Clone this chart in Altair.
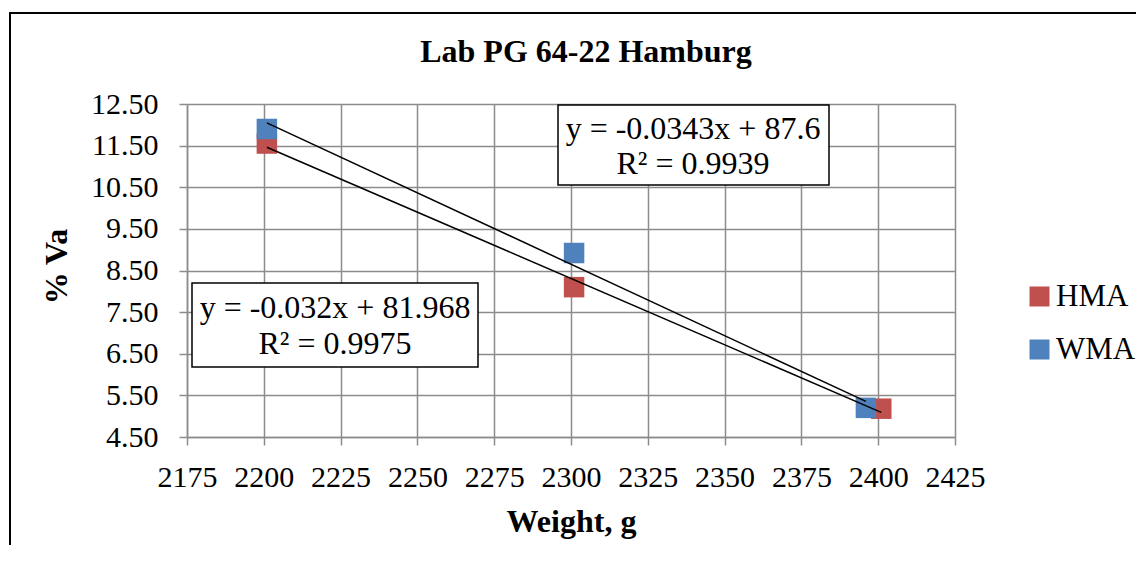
import altair as alt
import pandas as pd

series_names = ["HMA", "WMA"]
series_colors = ["#C0504D", "#4F81BD"]
hma_weight = [2201, 2301, 2401]
hma_va = [11.55, 8.10, 5.18]
wma_weight = [2201, 2301, 2396]
wma_va = [11.90, 8.92, 5.20]
x_ticks = [2175, 2200, 2225, 2250, 2275, 2300, 2325, 2350, 2375, 2400, 2425]
y_ticks = [4.5, 5.5, 6.5, 7.5, 8.5, 9.5, 10.5, 11.5, 12.5]
chart_title = "Lab PG 64-22 Hamburg"
x_title = "Weight, g"
y_title = "% Va"
eq_wma = ["y = -0.0343x + 87.6", "R² = 0.9939"]
eq_hma = ["y = -0.032x + 81.968", "R² = 0.9975"]

FONT = "Liberation Serif"

df = pd.DataFrame({
    "series": ["HMA"] * len(hma_weight) + ["WMA"] * len(wma_weight),
    "weight": hma_weight + wma_weight,
    "va": hma_va + wma_va,
})

xenc = alt.X("weight:Q",
             scale=alt.Scale(domain=[x_ticks[0], x_ticks[-1]], nice=False, zero=False),
             axis=alt.Axis(values=x_ticks, title=x_title, format="d",
                           labelFontSize=30, labelPadding=17, tickSize=8,
                           labelOverlap=False, labelFlush=False,
                           titleFontSize=32, titleFontWeight="bold",
                           titleX=384, titleY=94, titleAlign="center",
                           titleBaseline="alphabetic"))
yenc = alt.Y("va:Q",
             scale=alt.Scale(domain=[y_ticks[0], y_ticks[-1]], nice=False, zero=False),
             axis=alt.Axis(values=y_ticks, title=y_title, format=".2f",
                           labelFontSize=30, labelPadding=21, tickSize=8,
                           labelOverlap=False, labelFlush=False,
                           titleFontSize=32, titleFontWeight="bold",
                           titleX=-131, titleY=162, titleAlign="center",
                           titleBaseline="middle", titleAngle=270))

base = alt.Chart(df)

one = pd.DataFrame({"k": [0]})

border = alt.Chart(one).mark_rect(fillOpacity=0, stroke="black", strokeWidth=2).encode(
    x=alt.value(-177), x2=alt.value(1300), y=alt.value(-91), y2=alt.value(900))

points = base.mark_point(shape="square", filled=True, size=420, opacity=1, strokeWidth=0).encode(
    x=xenc, y=yenc,
    color=alt.Color("series:N",
                    scale=alt.Scale(domain=series_names, range=series_colors),
                    legend=alt.Legend(orient="none", legendX=837, legendY=177, title=None,
                                      symbolType="square", symbolSize=400, symbolStrokeWidth=0,
                                      symbolOpacity=1, labelFontSize=31, labelFont=FONT,
                                      labelColor="black", labelOffset=1, rowPadding=21,
                                      padding=0)))

trend = base.transform_regression("weight", "va", groupby=["series"]).mark_line(
    color="black", strokeWidth=1.5).encode(x=xenc, y=yenc, detail="series:N")

wma_box = alt.Chart(one).mark_rect(fill="white", stroke="black", strokeWidth=1.5).encode(
    x=alt.value(371), x2=alt.value(642), y=alt.value(1), y2=alt.value(81))
wma_txt = alt.Chart(pd.DataFrame({"t": ["\n".join(eq_wma)]})).mark_text(
    font=FONT, fontSize=32, align="center", baseline="alphabetic", lineBreak="\n",
    lineHeight=35, color="black").encode(text="t:N", x=alt.value(506), y=alt.value(35))

hma_box = alt.Chart(one).mark_rect(fill="white", stroke="black", strokeWidth=1.5).encode(
    x=alt.value(5), x2=alt.value(291), y=alt.value(179), y2=alt.value(263))
hma_txt = alt.Chart(pd.DataFrame({"t": ["\n".join(eq_hma)]})).mark_text(
    font=FONT, fontSize=32, align="center", baseline="alphabetic", lineBreak="\n",
    lineHeight=36, color="black").encode(text="t:N", x=alt.value(148), y=alt.value(214))

title = alt.Chart(pd.DataFrame({"t": [chart_title]})).mark_text(
    font=FONT, fontSize=32, fontWeight="bold", align="center", baseline="alphabetic",
    color="black").encode(text="t:N", x=alt.value(399), y=alt.value(-42))

chart = alt.layer(border, points, trend, wma_box, wma_txt, hma_box, hma_txt, title).properties(
    width=768, height=333,
    autosize=alt.AutoSizeParams(type="none"),
    padding={"left": 179, "top": 96, "right": 181, "bottom": 108},
).configure_axis(
    gridColor="#8C8C8C", gridWidth=1.5, gridOpacity=1,
    domainColor="#8C8C8C", domainWidth=1.5,
    tickColor="#8C8C8C", tickWidth=1.5,
    labelColor="black", titleColor="black",
    labelFont=FONT, titleFont=FONT,
).configure_view(strokeOpacity=0)

chart.save("out.html", embed_options={"renderer": "svg", "actions": False})
